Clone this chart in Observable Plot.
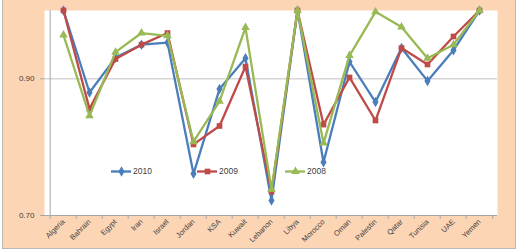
<!DOCTYPE html>
<html><head><meta charset="utf-8">
<script src="https://cdn.jsdelivr.net/npm/d3@7"></script>
<script src="https://cdn.jsdelivr.net/npm/@observablehq/plot@0.6"></script>
<style>
body{margin:0;background:#fff;font-family:"Liberation Sans",Arial,sans-serif;}
#wrap{position:relative;width:519px;height:252px;}
#bg{position:absolute;left:2px;top:-1px;width:512px;height:248px;background:#fcd5b5;border:1px solid #b8b8b8;}
#chart{position:absolute;left:0;top:0;}
#legend{position:absolute;left:0;top:0;width:519px;height:252px;pointer-events:none;font-size:8.5px;color:#404040;}
.li{position:absolute;top:166px;display:flex;align-items:center;gap:2px;}
</style></head><body>
<div id="wrap"><div id="bg"></div><div id="chart"></div><div id="legend"></div></div>
<script>
const categories = ["Algeria","Bahrain","Egypt","Iran","Israel","Jordan","KSA","Kuwait","Lebanon","Libya","Morocco","Oman","Palestin","Qatar","Tunisia","UAE","Yemen"];
const years = ["2010","2009","2008"];
const v2010 = [1.000,0.880,0.931,0.950,0.953,0.761,0.885,0.930,0.722,1.000,0.778,0.925,0.866,0.945,0.897,0.942,1.000];
const v2009 = [1.000,0.856,0.929,0.950,0.967,0.804,0.831,0.918,0.735,1.000,0.833,0.902,0.839,0.945,0.921,0.962,1.000];
const v2008 = [0.964,0.846,0.939,0.967,0.963,0.808,0.867,0.975,0.738,1.000,0.806,0.934,0.998,0.976,0.930,0.950,1.000];
const yTicks = [0.70, 0.90];
const colors = ["#4a7ebb","#be4b48","#98b954"];
const symbols = ["diamond","square","triangle"];

const valuesByYear = {"2010": v2010, "2009": v2009, "2008": v2008};
const data = years.flatMap(y => categories.map((c,i) => ({country:c, year:y, value:valuesByYear[y][i]})));

const W = 519, H = 252, ML = 44, MR = 22, MT = 10, MB = 37;
const bw = (W - ML - MR) / categories.length;

const seriesMarks = years.flatMap(y => {
  const d = data.filter(r => r.year === y);
  return [
    Plot.line(d, {x:"country", y:"value", stroke:"year", strokeWidth:2.3}),
    Plot.dot(d, {x:"country", y:"value", fill:"year", symbol:"year", r:3.2, stroke:null})
  ];
});

const chart = Plot.plot({
  width: W, height: H, marginLeft: ML, marginRight: MR, marginTop: MT, marginBottom: MB,
  x: {domain: categories, type: "band", padding: 0, label: null},
  y: {domain: [0.70, 1.00], label: null},
  color: {domain: years, range: colors},
  symbol: {domain: years, range: symbols},
  style: {background: "transparent", fontFamily: "'Liberation Sans', Arial, sans-serif", fontSize: "7px", color: "#404040", overflow: "visible"},
  marks: [
    Plot.frame({fill: "white", stroke: null}),
    Plot.gridY([0.90], {stroke: "#c0c0c0", strokeOpacity: 1, strokeWidth: 1}),
    Plot.ruleY([0.70], {stroke: "#a6a6a6"}),
    Plot.ruleX([categories[0]], {dx: -bw/2, stroke: "#a6a6a6"}),
    Plot.axisY(yTicks, {tickSize: 4, tickPadding: 6, tickFormat: d3.format(".2f"), stroke: "#a6a6a6", fontSize: 8, fill: "#404040"}),
    Plot.axisX({text: null, tickSize: 4, dx: -bw/2, stroke: "#a6a6a6"}),
    Plot.axisX([categories[categories.length-1]], {text: null, tickSize: 4, dx: bw/2, stroke: "#a6a6a6"}),
    Plot.axisX({tickSize: 0, tickRotate: -45, tickPadding: 5, fill: "#404040", fontSize: 7.5}),
    ...seriesMarks
  ]
});
document.getElementById("chart").appendChild(chart);

// legend inside plot
const legendX = [111, 197, 285];
const leg = document.getElementById("legend");
years.forEach((y, i) => {
  const div = document.createElement("div");
  div.className = "li";
  div.style.left = legendX[i] + "px";
  const sym = Plot.plot({
    width: 20, height: 10, margin: 0,
    x: {domain: [0, 1], axis: null}, y: {domain: [0, 1], axis: null},
    style: {background: "transparent", overflow: "visible"},
    marks: [
      Plot.ruleY([0.5], {x1: 0, x2: 1, stroke: colors[i], strokeWidth: 2.3}),
      Plot.dot([0.5], {x: d => d, y: 0.5, symbol: () => symbols[i], fill: colors[i], r: 3.2})
    ]
  });
  div.appendChild(sym);
  const t = document.createElement("span");
  t.textContent = y;
  div.appendChild(t);
  leg.appendChild(div);
});
</script>
</body></html>
